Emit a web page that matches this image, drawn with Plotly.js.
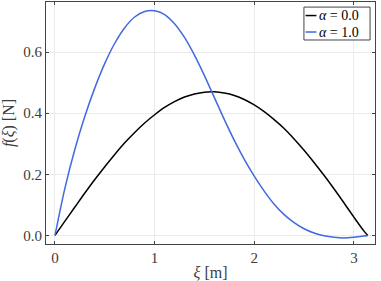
<!DOCTYPE html>
<html>
<head>
<meta charset="utf-8">
<script src="https://cdn.plot.ly/plotly-3.0.1.min.js"></script>
<style>
html,body{margin:0;padding:0;background:#fff;}
#chart{width:381px;height:281px;}
#chart svg text{font-family:"Liberation Serif", serif !important;}
</style>
</head>
<body>
<div id="chart"></div>
<script>
var xi = [0, 0.1, 0.2, 0.3, 0.4, 0.5, 0.6, 0.7, 0.8, 0.9, 1.0, 1.1, 1.2, 1.3, 1.4, 1.5, 1.6, 1.7, 1.8, 1.9, 2.0, 2.1, 2.2, 2.3, 2.4, 2.5, 2.6, 2.7, 2.8, 2.9, 3.0, 3.1, 3.14];
var fAlpha0 = [0, 0.047, 0.093, 0.139, 0.183, 0.225, 0.265, 0.303, 0.337, 0.368, 0.395, 0.419, 0.438, 0.453, 0.463, 0.469, 0.470, 0.466, 0.458, 0.445, 0.427, 0.405, 0.379, 0.350, 0.316, 0.279, 0.239, 0.197, 0.153, 0.107, 0.060, 0.015, 0];
var fAlpha1 = [0, 0.155, 0.282, 0.390, 0.483, 0.563, 0.629, 0.680, 0.715, 0.733, 0.735, 0.723, 0.693, 0.648, 0.590, 0.523, 0.451, 0.379, 0.311, 0.249, 0.194, 0.145, 0.102, 0.068, 0.042, 0.022, 0.008, -0.001, -0.006, -0.008, -0.006, -0.002, 0];
var names = ['<i>α</i> = 0.0', '<i>α</i> = 1.0'];
var colors = ['#000000', '#4169e1'];

var font = 'Liberation Serif';
var traces = [fAlpha0, fAlpha1].map(function (ys, i) {
  return {x: xi, y: ys, name: names[i], mode: 'lines', showlegend: false,
          line: {color: colors[i], width: 1.5, shape: 'spline', smoothing: 0.8}};
});

// compact legend (box, short line keys, labels) in paper coordinates
var legX0 = 0.784, legX1 = 0.985, legY0 = 0.843, legY1 = 0.979;
var rowY = [0.944, 0.876];
var shapes = [{type: 'rect', xref: 'paper', yref: 'paper', x0: legX0, x1: legX1, y0: legY0, y1: legY1,
               line: {color: '#444', width: 1}, fillcolor: '#fff', layer: 'above'}];
var annotations = [];
names.forEach(function (nm, i) {
  shapes.push({type: 'line', xref: 'paper', yref: 'paper', x0: 0.789, x1: 0.822, y0: rowY[i], y1: rowY[i],
               line: {color: colors[i], width: 1.5}, layer: 'above'});
  annotations.push({xref: 'paper', yref: 'paper', x: 0.826, y: rowY[i], xanchor: 'left', yanchor: 'middle',
                    text: nm, showarrow: false, borderpad: 0, font: {family: font, size: 14, color: '#000'}});
});

var axisCommon = {
  showgrid: true, gridcolor: '#ebebeb', gridwidth: 1,
  zeroline: false, showline: true, linecolor: '#444', linewidth: 1,
  mirror: 'ticks', ticks: 'inside', ticklen: 3, tickcolor: '#444',
  tickfont: {family: font, size: 15, color: '#3c3c3c'}
};
var layout = {
  width: 381, height: 281,
  font: {family: font, size: 15, color: '#3c3c3c'},
  margin: {l: 46, r: 6, t: 2, b: 37},
  paper_bgcolor: '#fff', plot_bgcolor: '#fff',
  showlegend: false,
  shapes: shapes,
  annotations: annotations,
  xaxis: Object.assign({}, axisCommon, {range: [-0.09, 3.212], tickvals: [0, 1, 2, 3], ticktext: ['0', '1', '2', '3'],
          title: {text: '<i>ξ</i> [m]', font: {family: font, size: 16, color: '#3c3c3c'}, standoff: 4}}),
  yaxis: Object.assign({}, axisCommon, {range: [-0.028, 0.764], tickvals: [0, 0.2, 0.4, 0.6], ticktext: ['0.0', '0.2', '0.4', '0.6'],
          title: {text: '<i>f</i>(<i>ξ</i>) [N]', font: {family: font, size: 16, color: '#3c3c3c'}, standoff: 6}})
};
Plotly.newPlot('chart', traces, layout, {displayModeBar: false, staticPlot: true});
</script>
</body>
</html>
